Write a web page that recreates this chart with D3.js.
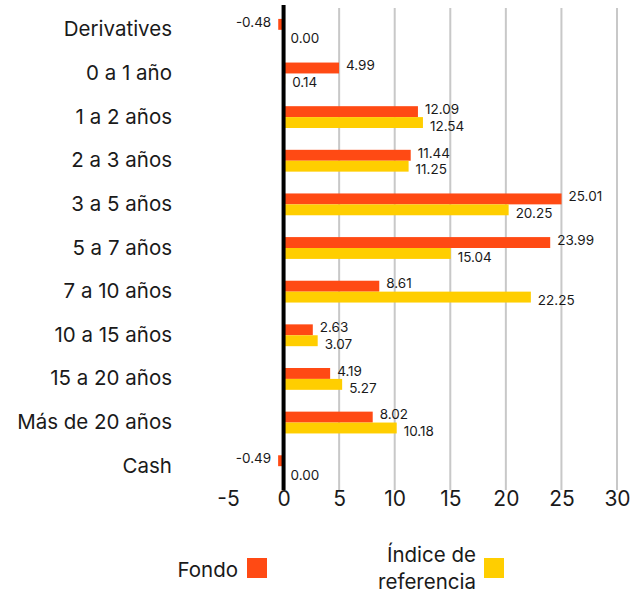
<!DOCTYPE html>
<html>
<head>
<meta charset="utf-8">
<script src="https://cdn.jsdelivr.net/npm/d3@7"></script>
<style>
  body { margin: 0; background: #fff; }
  text { font-family: "Inter", "Open Sans", sans-serif; fill: #1a1a1a; }
</style>
</head>
<body>
<div id="chart"></div>
<script>
// data
const categories = ["Derivatives", "0 a 1 año", "1 a 2 años", "2 a 3 años", "3 a 5 años", "5 a 7 años",
    "7 a 10 años", "10 a 15 años", "15 a 20 años", "Más de 20 años", "Cash"];
const fondo = [-0.48, 4.99, 12.09, 11.44, 25.01, 23.99, 8.61, 2.63, 4.19, 8.02, -0.49];
const indice = [0.00, 0.14, 12.54, 11.25, 20.25, 15.04, 22.25, 3.07, 5.27, 10.18, 0.00];
const xTicks = [-5, 0, 5, 10, 15, 20, 25, 30];
const seriesNames = ["Fondo", "Índice de referencia"];
const colors = ["#FF4A14", "#FFCE00"];

const width = 641, height = 597;

let svg = d3.select("#chart").append("svg")
    .attr("width", width)
    .attr("height", height);

let x = d3.scaleLinear().domain([-5, 30]).range([228, 617]);
let y = d3.scaleBand().domain(categories).range([8, 488]).paddingInner(0.5).paddingOuter(0.25);
let sub = d3.scaleBand().domain([0, 1]).range([0, y.bandwidth()]);

// gridlines
svg.append("g")
    .selectAll("line")
    .data(xTicks.filter(d => d > 0))
    .join("line")
    .attr("x1", d => x(d)).attr("x2", d => x(d))
    .attr("y1", 8).attr("y2", 490)
    .attr("stroke", "#c8c8c8")
    .attr("stroke-width", 2);

// x axis tick labels (plain hyphen for the minus sign, like the original)
let xAxis = d3.axisBottom(x).tickValues(xTicks).tickSize(0).tickPadding(0).tickFormat(d => String(d));
let gx = svg.append("g")
    .attr("transform", "translate(0,488)")
    .call(xAxis);
gx.select(".domain").remove();
gx.selectAll("text")
    .attr("dy", "0.32em")
    .attr("y", 11)
    .style("font-size", "21px")
    .attr("fill", "#1a1a1a");

// category labels
let yAxis = d3.axisLeft(y).tickSize(0).tickPadding(0);
let gy = svg.append("g")
    .attr("transform", "translate(172,0)")
    .call(yAxis);
gy.select(".domain").remove();
gy.selectAll("text")
    .style("font-size", "20.5px")
    .attr("fill", "#1a1a1a");

// bars
let rows = categories.map((c, i) => ({cat: c, vals: [fondo[i], indice[i]]}));
let groups = svg.append("g").selectAll("g")
    .data(rows)
    .join("g")
    .attr("transform", d => `translate(0,${y(d.cat)})`);

groups.selectAll("rect")
    .data(d => d.vals.map((v, k) => ({v, k})))
    .join("rect")
    .attr("x", d => x(Math.min(0, d.v)))
    .attr("y", d => sub(d.k))
    .attr("width", d => Math.abs(x(d.v) - x(0)))
    .attr("height", sub.bandwidth())
    .attr("fill", d => colors[d.k]);

groups.selectAll("text.val")
    .data(d => d.vals.map((v, k) => ({v, k})))
    .join("text")
    .attr("class", "val")
    .attr("x", d => d.v < 0 ? x(d.v) - 7 : x(d.v) + 7)
    .attr("y", d => sub(d.k) + sub.bandwidth() / 2 + (d.k === 0 ? -2.5 : 3.5))
    .attr("dy", "0.35em")
    .attr("text-anchor", d => d.v < 0 ? "end" : "start")
    .style("font-size", "13.5px")
    .text(d => d.v.toFixed(2));

// zero line
svg.append("line")
    .attr("x1", x(0)).attr("x2", x(0))
    .attr("y1", 5).attr("y2", 490)
    .attr("stroke", "#000")
    .attr("stroke-width", 4);

// legend
let legend = svg.append("g").style("font-size", "20.5px");
legend.append("text")
    .attr("x", 238).attr("y", 570)
    .attr("dy", "0.35em")
    .attr("text-anchor", "end")
    .text(seriesNames[0]);
legend.append("rect")
    .attr("x", 247).attr("y", 558)
    .attr("width", 20).attr("height", 20)
    .attr("fill", colors[0]);

let idx = legend.append("text")
    .attr("text-anchor", "end");
idx.append("tspan").attr("x", 476).attr("y", 562).text("Índice de");
idx.append("tspan").attr("x", 476).attr("y", 589).text("referencia");
legend.append("rect")
    .attr("x", 484).attr("y", 558)
    .attr("width", 20).attr("height", 20)
    .attr("fill", colors[1]);
</script>
</body>
</html>
